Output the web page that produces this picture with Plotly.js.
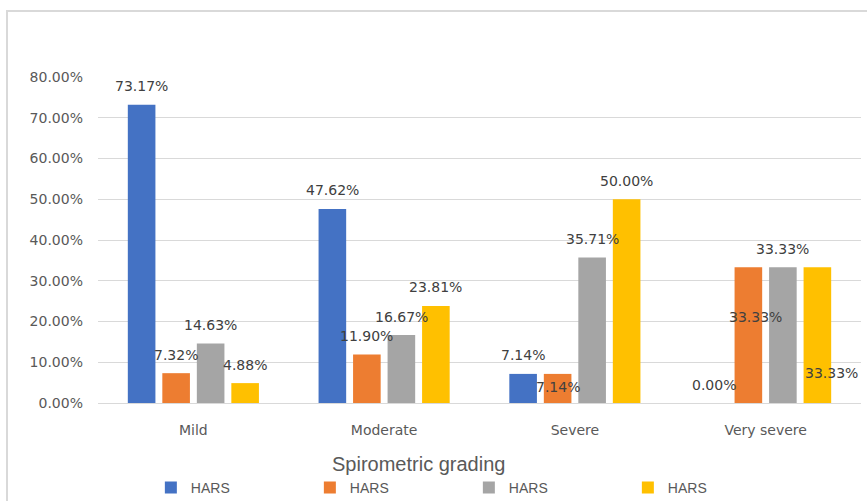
<!DOCTYPE html>
<html>
<head>
<meta charset="utf-8">
<script src="https://cdn.plot.ly/plotly-3.0.1.min.js"></script>
<style>
  html, body { margin: 0; padding: 0; background: #fff; }
  #wrap { position: relative; width: 867px; height: 501px; }
  #chart { width: 867px; height: 501px; }
  #frame { position: absolute; left: 6px; top: 10px; width: 861px; height: 491px;
           border-top: 2px solid #d9d9d9; border-left: 2px solid #d9d9d9;
           box-sizing: border-box; pointer-events: none; }
</style>
</head>
<body>
<div id="wrap">
  <div id="chart"></div>
  <div id="frame"></div>
</div>
<script>
// ---- data ----
const categories = ["Mild", "Moderate", "Severe", "Very severe"];
const seriesNames = ["HARS", "HARS", "HARS", "HARS"];
const series1 = [73.17, 47.62, 7.14, 0.00];
const series2 = [7.32, 11.90, 7.14, 33.33];
const series3 = [14.63, 16.67, 35.71, 33.33];
const series4 = [4.88, 23.81, 50.00, 33.33];
const allSeries = [series1, series2, series3, series4];
const colors = ["#4472C4", "#ED7D31", "#A5A5A5", "#FFC000"];

// label nudges (pixels) for data labels that were moved by hand in the original: [series][category] -> [dx, dy]
const labelNudges = [
  [[0,0],[0,0],[0,0],[0,0]],
  [[0,0],[0,0],[0,32],[7,68]],
  [[0,0],[0,0],[0,0],[0,0]],
  [[0,0],[0,0],[0,0],[14,124]]
];

const bargap = 0.2765;
const bargroupgap = 0.2;
const labelFont = {family: "DejaVu Sans", size: 14, color: "#404040"};

const traces = allSeries.map((vals, i) => ({
  type: "bar",
  name: seriesNames[i],
  x: categories,
  y: vals,
  marker: {color: colors[i]},
  hoverinfo: "none"
}));

const slot = (1 - bargap) / allSeries.length;
const annotations = [];
allSeries.forEach((vals, i) => {
  vals.forEach((v, c) => {
    const n = labelNudges[i][c];
    annotations.push({
      xref: "x", yref: "y",
      x: c + (i - (allSeries.length - 1) / 2) * slot,
      y: v,
      text: v.toFixed(2) + "%",
      showarrow: false,
      xanchor: "center", yanchor: "middle",
      xshift: n[0],
      yshift: 18.5 - n[1],
      font: labelFont
    });
  });
});
annotations.push({
  xref: "paper", yref: "paper",
  x: (418 - 98) / 763, y: 0,
  yshift: -61,
  text: "Spirometric grading",
  showarrow: false,
  xanchor: "center", yanchor: "middle",
  font: {family: "Liberation Sans", size: 20, color: "#595959"}
});

const layout = {
  width: 867, height: 501,
  margin: {l: 98, r: 6, t: 77, b: 98},
  paper_bgcolor: "#ffffff",
  plot_bgcolor: "#ffffff",
  barmode: "group",
  bargap: bargap,
  bargroupgap: bargroupgap,
  showlegend: true,
  legend: {
    orientation: "h",
    xref: "container", yref: "container",
    x: 0.174, y: 0.026,
    xanchor: "left", yanchor: "middle",
    entrywidthmode: "pixels",
    entrywidth: 114,
    font: {family: "Liberation Sans", size: 14, color: "#595959"},
    traceorder: "normal"
  },
  xaxis: {
    type: "category",
    showgrid: false,
    showline: true,
    linecolor: "#d9d9d9",
    linewidth: 1,
    ticks: "",
    ticklabelstandoff: 14,
    tickfont: {family: "DejaVu Sans", size: 14, color: "#595959"},
    fixedrange: true
  },
  yaxis: {
    range: [0, 80],
    dtick: 10,
    tick0: 0,
    tickformat: ".2f",
    ticksuffix: "%",
    showgrid: true,
    gridcolor: "#d9d9d9",
    gridwidth: 1,
    zeroline: false,
    showline: false,
    ticks: "",
    ticklabelstandoff: 14,
    tickfont: {family: "DejaVu Sans", size: 14, color: "#595959"},
    fixedrange: true
  },
  annotations: annotations
};

Plotly.newPlot("chart", traces, layout, {displayModeBar: false, staticPlot: true});
</script>
</body>
</html>
